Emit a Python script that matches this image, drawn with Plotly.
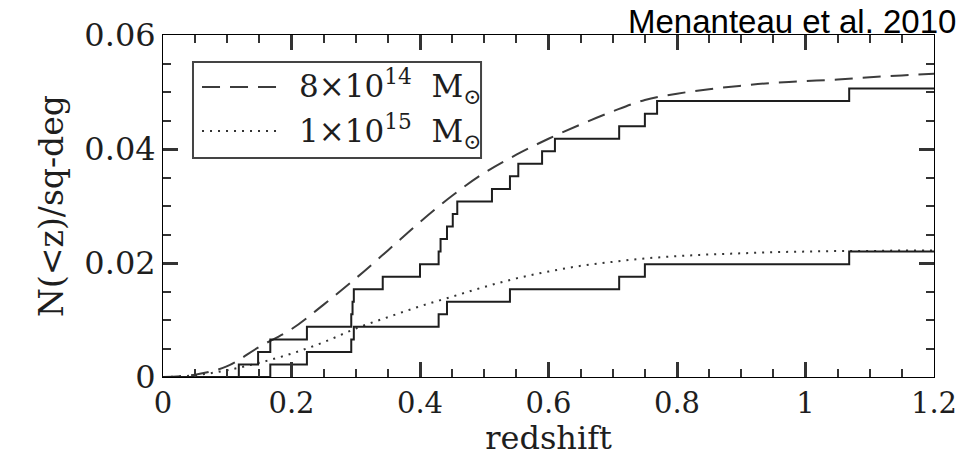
import plotly.graph_objects as go

# Cumulative cluster counts per square degree (step functions)
z_8e14 = [0, 0.118, 0.148, 0.167, 0.224, 0.293, 0.295, 0.297, 0.342, 0.400,
          0.429, 0.432, 0.442, 0.451, 0.458, 0.512, 0.540, 0.553, 0.590, 0.610,
          0.710, 0.750, 0.769, 1.068, 1.2]
n_8e14 = [0, 0.0022, 0.0044, 0.0066, 0.0088, 0.0110, 0.0132, 0.0154, 0.0176, 0.0198,
          0.0220, 0.0242, 0.0264, 0.0286, 0.0308, 0.0330, 0.0352, 0.0374, 0.0396, 0.0418,
          0.0440, 0.0462, 0.0484, 0.0506, 0.0506]

z_1e15 = [0, 0.167, 0.224, 0.293, 0.297, 0.429, 0.442, 0.540, 0.710, 0.750, 1.068, 1.2]
n_1e15 = [0, 0.0022, 0.0044, 0.0066, 0.0088, 0.0110, 0.0132, 0.0154, 0.0176, 0.0198,
          0.0220, 0.0220]

# Model predictions
z_model = [0.0, 0.05, 0.10, 0.15, 0.20, 0.25, 0.30, 0.35, 0.40, 0.45, 0.50, 0.55,
           0.60, 0.65, 0.70, 0.75, 0.80, 0.85, 0.90, 0.95, 1.00, 1.05, 1.10, 1.15, 1.20]
model_8e14 = [0.0, 0.0004, 0.0019, 0.0053, 0.0084, 0.0127, 0.0173, 0.0222, 0.0272,
              0.0318, 0.0358, 0.0390, 0.0418, 0.0443, 0.0466, 0.0486, 0.0497, 0.0505,
              0.0511, 0.0516, 0.0519, 0.0522, 0.0526, 0.0529, 0.0532]
model_1e15 = [0.0, 0.0003, 0.0012, 0.0025, 0.0041, 0.0061, 0.0085, 0.0105, 0.0124,
              0.0141, 0.0158, 0.0173, 0.0185, 0.0195, 0.0202, 0.0208, 0.0212, 0.0215,
              0.0217, 0.0219, 0.0220, 0.0221, 0.0221, 0.0222, 0.0222]

y_ticks = [0, 0.02, 0.04, 0.06]
y_labels = ["0", "0.02", "0.04", "0.06"]

legend_labels = ["8×10<sup>14</sup>  M<sub>⊙</sub>", "1×10<sup>15</sup>  M<sub>⊙</sub>"]

INK = "#1e1e1e"
TICK = "#333333"
SERIF = "DejaVu Serif"

fig = go.Figure()

fig.add_trace(go.Scatter(x=z_model, y=model_8e14, mode="lines", name=legend_labels[0],
                         line=dict(color="#3c3c3c", width=2, dash="18px,10px", shape="spline"),
                         showlegend=False))
fig.add_trace(go.Scatter(x=z_model, y=model_1e15, mode="lines", name=legend_labels[1],
                         line=dict(color="#333333", width=2, dash="2px,6px", shape="spline"),
                         showlegend=False))
fig.add_trace(go.Scatter(x=z_8e14, y=n_8e14, mode="lines", name="clusters 8e14",
                         line=dict(color=INK, width=2, shape="hv"), showlegend=False))
fig.add_trace(go.Scatter(x=z_1e15, y=n_1e15, mode="lines", name="clusters 1e15",
                         line=dict(color=INK, width=2, shape="hv"), showlegend=False))

axis_common = dict(
    showline=True, linecolor="black", mirror="ticks",
    ticks="inside", ticklen=15, tickwidth=3, tickcolor=TICK,
    showgrid=False, zeroline=False,
)

fig.update_xaxes(
    range=[0, 1.2], tickmode="linear", tick0=0, dtick=0.2,
    minor=dict(ticks="inside", ticklen=8, tickwidth=2, tickcolor=TICK, dtick=0.05,
               tick0=0, showgrid=False),
    tickfont=dict(family=SERIF, size=29, color=INK),
    title=dict(text="redshift", font=dict(family=SERIF, size=32, color=INK), standoff=8),
    **axis_common,
)
fig.update_yaxes(
    range=[0, 0.06], tickmode="array", tickvals=y_ticks, ticktext=y_labels,
    minor=dict(ticks="inside", ticklen=8, tickwidth=2, tickcolor=TICK, dtick=0.005,
               tick0=0, showgrid=False),
    tickfont=dict(family=SERIF, size=32, color=INK),
    title=dict(text="N(<z)/sq-deg", font=dict(family=SERIF, size=33, color=INK), standoff=10),
    **axis_common,
)

# Legend box drawn in paper coordinates
shapes = [
    dict(type="rect", xref="paper", yref="paper", x0=0.0389, x1=0.4125, y0=0.640, y1=0.921,
         line=dict(color="#444444", width=2), fillcolor="white", layer="above"),
    dict(type="line", xref="paper", yref="paper", x0=0.0506, x1=0.1518, y0=0.848, y1=0.848,
         line=dict(color="#3c3c3c", width=2, dash="18px,10px"), layer="above"),
    dict(type="line", xref="paper", yref="paper", x0=0.0506, x1=0.1518, y0=0.719, y1=0.719,
         line=dict(color="#333333", width=2, dash="2px,6px"), layer="above"),
]
annotations = [
    dict(text=legend_labels[0], xref="paper", yref="paper", x=0.174, y=0.848,
         xanchor="left", yanchor="middle", showarrow=False,
         font=dict(family=SERIF, size=31, color=INK)),
    dict(text=legend_labels[1], xref="paper", yref="paper", x=0.174, y=0.719,
         xanchor="left", yanchor="middle", showarrow=False,
         font=dict(family=SERIF, size=31, color=INK)),
    dict(text="Menanteau et al. 2010", xref="paper", yref="paper", x=1.031, y=0.98,
         xanchor="right", yanchor="bottom", showarrow=False,
         font=dict(family="Liberation Sans", size=33, color="#000000")),
]

fig.update_layout(
    template="none",
    width=965, height=457,
    margin=dict(l=163, r=31, t=35, b=80),
    shapes=shapes, annotations=annotations,
    showlegend=False,
)

fig.write_html("out.html")
